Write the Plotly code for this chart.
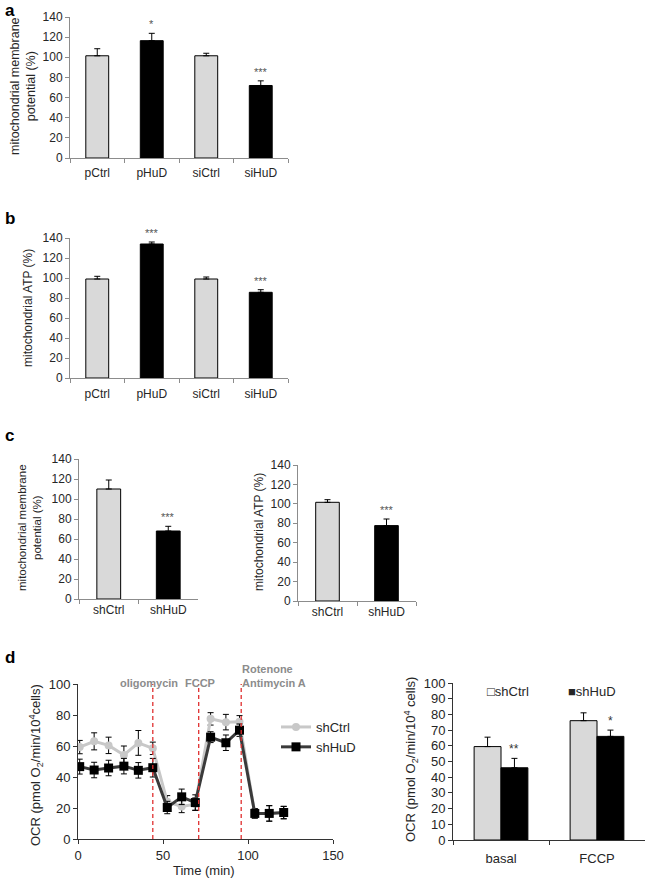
import plotly.graph_objects as go

W, H = 647, 881
FONT = "Liberation Sans, Arial, sans-serif"
TXT = "#262626"
LIGHT = "#d9d9d9"

# ---------------- data ----------------
cats_ab = ["pCtrl", "pHuD", "siCtrl", "siHuD"]
mmp_a = [101.5, 116.5, 101.5, 72]
mmp_a_err = [7, 7.3, 2.5, 4.6]
mmp_a_sig = ["", "*", "", "***"]

atp_b = [99, 134, 99, 85.7]
atp_b_err = [2.7, 2, 2, 2.6]
atp_b_sig = ["", "***", "", "***"]

cats_c = ["shCtrl", "shHuD"]
mmp_c = [110, 68]
mmp_c_err = [9, 4.7]
mmp_c_sig = ["", "***"]
atp_c = [101.6, 77.6]
atp_c_err = [2.7, 6.8]
atp_c_sig = ["", "***"]

time_min = [1, 9.5, 18, 27, 35.5, 44, 52.5, 61, 69, 78, 87, 95, 104, 112.5, 121]
ocr_shctrl = [59.3, 63, 60.4, 54.2, 62, 58.5, 24, 21, 22.5, 77.5, 75.4, 75.6, 16.5, 16.5, 17]
ocr_shctrl_err = [4.3, 5.5, 5.3, 5.8, 8, 4, 4, 4, 4, 4, 5, 4, 3, 5, 4]
ocr_shhud = [46.7, 44.5, 45.8, 47, 44.3, 46, 20.3, 27.2, 23.5, 65.7, 62.1, 70.2, 16.5, 16.5, 17.1]
ocr_shhud_err = [4.8, 5, 5, 5, 5, 6, 4, 5, 5, 3.5, 5, 4, 3, 5, 4]
injection_times = [44, 71, 96]
injection_labels = ["oligomycin", "FCCP", "Rotenone<br>Antimycin A"]

cats_d = ["basal", "FCCP"]
ocr_bar_shctrl = [59.5, 76]
ocr_bar_shctrl_err = [6, 5]
ocr_bar_shhud = [46, 66]
ocr_bar_shhud_err = [6, 4]
ocr_bar_sig = ["**", "*"]


def dx(l, r):
    return [l / W, r / W]


def dy(top, bottom):
    return [1 - bottom / H, 1 - top / H]


fig = go.Figure()

axis_line = dict(showline=True, linecolor="#8c8c8c", linewidth=1, ticks="outside",
                 tickcolor="#8c8c8c", ticklen=4, showgrid=False, zeroline=False, automargin=False,
                 tickfont=dict(family=FONT, size=12, color=TXT))
dark_axis = {**axis_line, "tickfont": dict(family=FONT, size=13, color=TXT), "linecolor": "#333", "tickcolor": "#333"}


def err(arr):
    return dict(type="data", array=arr, arrayminus=[0] * len(arr), symmetric=False,
                color="black", thickness=1, width=3)


def bar_panel(n, cats, vals, errs, sig, colors, bw, xdom, ydom, standoff):
    xa = "x" if n == 1 else f"x{n}"
    ya = "y" if n == 1 else f"y{n}"
    fig.add_trace(go.Bar(x=cats, y=vals, width=bw, marker=dict(color=colors, line=dict(color="black", width=1)),
                         error_y=err(errs), xaxis=xa, yaxis=ya, showlegend=False))
    fig.layout[f"xaxis{n}"] = dict(domain=xdom, anchor=ya, range=[-0.5, len(cats) - 0.5],
                                   type="category", tickson="boundaries", ticklabelstandoff=standoff, **axis_line)
    fig.layout[f"yaxis{n}"] = dict(domain=ydom, anchor=xa, range=[0, 140], dtick=20, **axis_line)
    for c, v, e, s in zip(cats, vals, errs, sig):
        if s:
            fig.add_annotation(x=c, y=v + e, xref=xa, yref=ya, text=s, showarrow=False,
                               yanchor="bottom", yshift=1, font=dict(family=FONT, size=11, color="#555"))


bar_panel(1, cats_ab, mmp_a, mmp_a_err, mmp_a_sig, [LIGHT, "black", LIGHT, "black"], 0.42, dx(70, 288), dy(17, 158), 4)
bar_panel(2, cats_ab, atp_b, atp_b_err, atp_b_sig, [LIGHT, "black", LIGHT, "black"], 0.42, dx(70, 288), dy(238, 378), 5)
bar_panel(3, cats_c, mmp_c, mmp_c_err, mmp_c_sig, [LIGHT, "black"], 0.4, dx(79, 198), dy(459, 599), 0)
bar_panel(4, cats_c, atp_c, atp_c_err, atp_c_sig, [LIGHT, "black"], 0.4, dx(298, 416), dy(465, 601), 0)

# ---------------- d left: OCR time course ----------------
fig.add_trace(go.Scatter(x=time_min, y=ocr_shctrl, name="shCtrl", mode="lines+markers",
                         line=dict(color="#c8c8c8", width=3), marker=dict(symbol="circle", size=8, color="#c8c8c8"),
                         error_y=dict(type="data", array=ocr_shctrl_err, color="black", thickness=1, width=3),
                         xaxis="x5", yaxis="y5", legend="legend"))
fig.add_trace(go.Scatter(x=time_min, y=ocr_shhud, name="shHuD", mode="lines+markers",
                         line=dict(color="#3a3a3a", width=3), marker=dict(symbol="square", size=9, color="black"),
                         error_y=dict(type="data", array=ocr_shhud_err, color="black", thickness=1, width=3),
                         xaxis="x5", yaxis="y5", legend="legend"))
fig.layout["xaxis5"] = dict(domain=dx(78, 333), anchor="y5", range=[0, 150], dtick=50, **dark_axis)
fig.layout["yaxis5"] = dict(domain=dy(684, 839), anchor="x5", range=[0, 100], dtick=20, **dark_axis)
fig.add_annotation(x=204 / W, y=1 - 870 / H, xref="paper", yref="paper", text="Time (min)", showarrow=False,
                   xanchor="center", yanchor="middle", font=dict(family=FONT, size=13, color=TXT))
for t in injection_times:
    fig.add_shape(type="line", x0=t, x1=t, y0=0, y1=100, xref="x5", yref="y5",
                  line=dict(color="#e03030", width=1.3, dash="4px,3px"))
lab_pos = [(injection_times[0] - 2.5, "center", 683), (injection_times[1] + 0.5, "center", 683),
           (injection_times[2] - 0.5, "left", 676)]
for (xp, anc, ypx), lab in zip(lab_pos, injection_labels):
    fig.add_annotation(x=xp, y=1 - ypx / H, xref="x5", yref="paper", text=f"<b>{lab}</b>", showarrow=False,
                       xanchor=anc, yanchor="middle", align="left",
                       font=dict(family=FONT, size=11, color="#8c8c8c"))

# ---------------- d right: grouped bars ----------------
fig.add_trace(go.Bar(x=cats_d, y=ocr_bar_shctrl, name="shCtrl", width=0.28, offset=-0.28, showlegend=False,
                     marker=dict(color=LIGHT, line=dict(color="black", width=1)), error_y=err(ocr_bar_shctrl_err),
                     xaxis="x6", yaxis="y6"))
fig.add_trace(go.Bar(x=cats_d, y=ocr_bar_shhud, name="shHuD", width=0.28, offset=0, showlegend=False,
                     marker=dict(color="black", line=dict(color="black", width=1)), error_y=err(ocr_bar_shhud_err),
                     xaxis="x6", yaxis="y6"))
for c, v, e, s in zip(cats_d, ocr_bar_shhud, ocr_bar_shhud_err, ocr_bar_sig):
    fig.add_annotation(x=c, y=v + e, xref="x6", yref="y6", text=s, showarrow=False, xshift=13,
                       yanchor="bottom", yshift=0, font=dict(family=FONT, size=12, color="#333"))
fig.layout["xaxis6"] = dict(domain=dx(453, 645), anchor="y6", range=[-0.5, 1.5], type="category",
                            tickson="boundaries", ticklabelstandoff=6, **dark_axis)
fig.layout["yaxis6"] = dict(domain=dy(683, 840), anchor="x6", range=[0, 100], dtick=10, **dark_axis)
# legend keys for the grouped bars
for xpx, key in [(485, "□shCtrl"), (566, "■shHuD")]:
    fig.add_annotation(x=xpx / W, y=1 - 691 / H, xref="paper", yref="paper", text=key, showarrow=False,
                       xanchor="left", yanchor="middle", font=dict(family=FONT, size=13, color=TXT))

# ---------------- y titles & panel letters ----------------
def ytitle(xpx, ypx, text, size=11):
    fig.add_annotation(x=xpx / W, y=1 - ypx / H, xref="paper", yref="paper", text=text, textangle=-90,
                       showarrow=False, xanchor="center", yanchor="middle",
                       font=dict(family=FONT, size=size, color=TXT))


ytitle(23, 86, "mitochondrial membrane<br>potential (%)", 12.5)
ytitle(28, 308, "mitochondrial ATP (%)", 12)
ytitle(29, 528, "mitochondrial membrane<br>potential (%)", 11.5)
ytitle(259, 532, "mitochondrial ATP (%)", 12)
ytitle(36, 765, "OCR (pmol O<sub>2</sub>/min/10<sup>4</sup>cells)", 13)
ytitle(411, 760, "OCR (pmol O<sub>2</sub>/min/10<sup>4</sup> cells)", 13)

for letter, ypx in [("a", 10), ("b", 218), ("c", 435), ("d", 657)]:
    fig.add_annotation(x=3 / W, y=1 - ypx / H, xref="paper", yref="paper", text=f"<b>{letter}</b>",
                       showarrow=False, xanchor="left", yanchor="middle",
                       font=dict(family=FONT, size=17, color="black"))

fig.update_layout(
    width=W, height=H, margin=dict(l=0, r=0, t=0, b=0, autoexpand=False),
    paper_bgcolor="white", plot_bgcolor="white", barmode="overlay",
    legend=dict(x=276 / W, y=1 - 712 / H, xanchor="left", yanchor="top", bgcolor="rgba(0,0,0,0)",
                font=dict(family=FONT, size=13, color=TXT), itemwidth=30, tracegroupgap=0),
)

fig.write_html("out.html", config={"displayModeBar": False},
               post_script="document.body.style.margin='0px';document.body.style.overflow='hidden';")
